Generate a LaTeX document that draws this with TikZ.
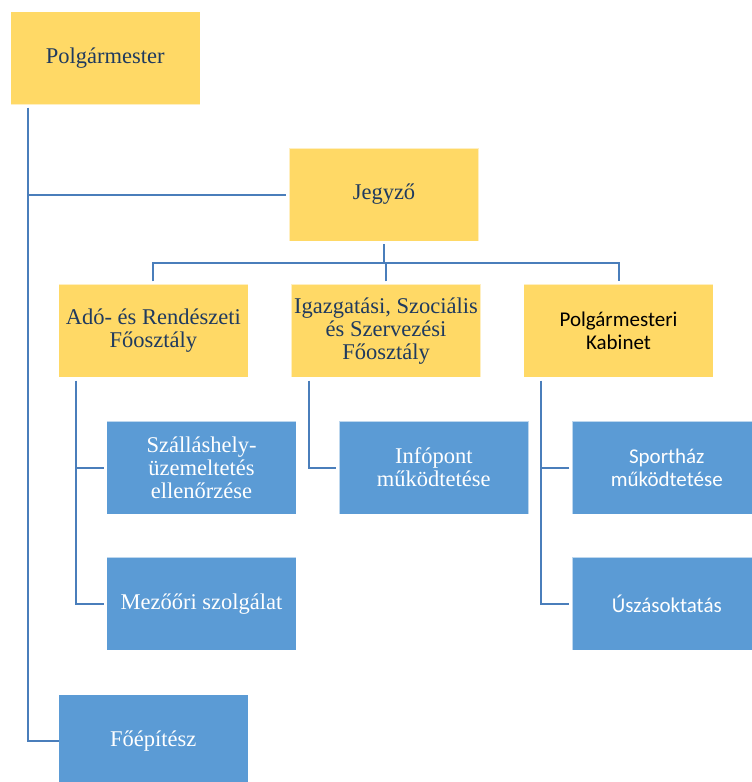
\documentclass[tikz,border=0pt]{standalone}
\usepackage{fontspec}
\setmainfont{Liberation Serif}
\newfontfamily\calibrifont{Carlito}
\usetikzlibrary{calc}
\definecolor{boxyellow}{HTML}{FFD966}
\definecolor{boxblue}{HTML}{5B9BD5}
\definecolor{linkblue}{HTML}{4A7EBB}
\definecolor{darktext}{HTML}{1F3A5F}
\begin{document}
\begin{tikzpicture}[x=1pt,y=-1pt,
  box/.style={rectangle, inner sep=0pt, minimum width=189.5pt, minimum height=93pt,
    align=center, font=\fontsize{22.5}{23}\selectfont, draw=white, draw opacity=0.6, line width=0.6pt},
  ybox/.style={box, fill=boxyellow, text=darktext},
  bbox/.style={box, fill=boxblue, text=white},
  sansfont/.style={font=\calibrifont\fontsize{21}{23}\selectfont},
  conn/.style={draw=linkblue, line width=2pt}]
\useasboundingbox (0,0) rectangle (752,782);
\clip (0,0) rectangle (752,782);
% nodes
\node[ybox] (pm) at (105.3,58.2) {Polgármester};
\node[ybox] (jg) at (384,194.5) {Jegyző};
\node[ybox] (ado) at (153.3,330.8) {Adó- és Rendészeti\\Főosztály};
\node[ybox] (igz) at (386,330.8) {Igazgatási, Szociális\\és Szervezési\\Főosztály};
\node[ybox, text=black, sansfont] (kab) at (618.5,330.8) {Polgármesteri\\Kabinet};
\node[bbox] (szal) at (201.5,467.5) {Szálláshely-\\üzemeltetés\\ellenőrzése};
\node[bbox] (info) at (433.8,467.5) {Infópont\\működtetése};
\node[bbox, sansfont] (sport) at (666.8,467.5) {Sportház\\működtetése};
\node[bbox] (mezo) at (201.5,603.8) {Mezőőri szolgálat};
\node[bbox, sansfont] (usz) at (666.8,603.8) {Úszásoktatás};
\node[bbox] (foe) at (153.3,741) {Főépítész};
% trunk coordinates
\coordinate (trunk) at ([xshift=18pt,yshift=-2.5pt]pm.south west);
\coordinate (bus) at ($(jg.south)+(0,22)$);
\coordinate (adotrunk) at ([xshift=18pt,yshift=-3pt]ado.south west);
\coordinate (igztrunk) at ([xshift=18pt,yshift=-3pt]igz.south west);
\coordinate (kabtrunk) at ([xshift=17.7pt,yshift=-3pt]kab.south west);
% connectors
\draw[conn, shorten >=-1pt] (trunk) |- (foe.west);
\draw[conn, shorten <=3pt] (jg.west) -- (jg.west -| trunk);
\draw[conn, shorten <=3pt] (jg.south) -- (bus);
\draw[conn] ([yshift=2.6pt]ado.north) |- (bus) -| ([yshift=2.6pt]kab.north);
\draw[conn] ([yshift=2.6pt]igz.north) -- (igz.north |- bus);
\draw[conn, shorten >=2.5pt] (adotrunk) |- (mezo.west);
\draw[conn, shorten <=2.5pt] (szal.west) -- (szal.west -| adotrunk);
\draw[conn, shorten >=2.5pt] (igztrunk) |- (info.west);
\draw[conn, shorten >=2.5pt] (kabtrunk) |- (usz.west);
\draw[conn, shorten <=2.5pt] (sport.west) -- (sport.west -| kabtrunk);
\end{tikzpicture}
\end{document}
